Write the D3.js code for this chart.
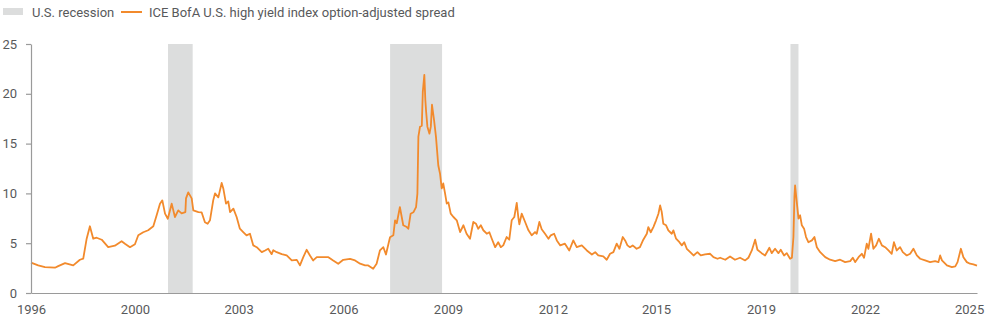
<!DOCTYPE html>
<html>
<head>
<meta charset="utf-8">
<script src="https://cdn.jsdelivr.net/npm/d3@7"></script>
<style>
  html, body { margin: 0; padding: 0; background: #fff; }
  svg { display: block; font-family: Roboto, "Liberation Sans", Arial, sans-serif; }
</style>
</head>
<body>
<svg id="chart" width="1000" height="324"></svg>
<script>
// ICE BofA U.S. high yield index option-adjusted spread (%), with U.S. recessions shaded
const spreadSeries = [
  ["1996-12-31",3.05],["1997-03-21",2.77],["1997-06-04",2.6],["1997-09-23",2.54],["1997-10-29",2.7],
  ["1998-01-13",3.0],["1998-04-14",2.77],["1998-06-27",3.34],["1998-08-03",3.45],["1998-09-10",5.45],
  ["1998-10-16",6.7],["1998-11-22",5.45],["1998-12-30",5.55],["1999-02-24",5.35],["1999-05-07",4.6],
  ["1999-07-20",4.75],["1999-10-03",5.2],["1999-11-09",4.95],["2000-01-04",4.6],["2000-02-28",4.9],
  ["2000-04-05",5.8],["2000-05-30",6.1],["2000-07-24",6.3],["2000-09-19",6.7],["2000-10-26",7.8],
  ["2000-12-02",8.97],["2000-12-28",9.3],["2001-01-27",7.97],["2001-02-27",7.46],["2001-04-11",8.97],
  ["2001-05-17",7.63],["2001-06-23",8.3],["2001-07-30",8.0],["2001-09-10",8.13],["2001-09-17",9.5],
  ["2001-10-12",10.1],["2001-11-19",9.5],["2001-12-07",8.3],["2002-02-02",8.13],["2002-03-09",8.1],
  ["2002-04-15",7.1],["2002-05-15",6.95],["2002-06-10",7.3],["2002-07-16",9.3],["2002-08-05",10.0],
  ["2002-09-11",9.6],["2002-10-18",11.05],["2002-11-05",10.5],["2002-12-05",8.97],["2002-12-30",9.2],
  ["2003-01-19",8.13],["2003-02-25",8.47],["2003-04-02",7.63],["2003-05-08",6.46],["2003-06-14",6.12],
  ["2003-07-21",5.79],["2003-08-28",5.95],["2003-10-04",4.78],["2003-11-11",4.6],["2004-01-06",4.1],
  ["2004-02-12",4.27],["2004-03-18",4.44],["2004-04-25",3.9],["2004-05-13",4.3],["2004-06-20",4.1],
  ["2004-08-15",3.9],["2004-10-09",3.77],["2004-12-04",3.27],["2005-01-29",3.33],["2005-03-05",2.77],
  ["2005-04-11",3.6],["2005-05-18",4.34],["2005-06-24",3.77],["2005-07-30",3.27],["2005-09-08",3.6],
  ["2005-11-20",3.6],["2006-01-15",3.6],["2006-03-09",3.27],["2006-05-04",2.94],["2006-06-29",3.33],
  ["2006-09-12",3.43],["2006-11-07",3.27],["2007-01-02",2.94],["2007-02-26",2.77],["2007-04-02",2.77],
  ["2007-05-27",2.43],["2007-07-04",2.94],["2007-08-10",4.27],["2007-09-17",4.6],["2007-10-16",3.87],
  ["2007-11-30",5.6],["2008-01-06",5.8],["2008-01-25",7.3],["2008-02-13",7.0],["2008-03-19",8.63],
  ["2008-04-08",7.63],["2008-04-25",6.8],["2008-06-03",6.62],["2008-06-20",6.45],["2008-07-16",7.96],
  ["2008-08-15",8.1],["2008-09-14",8.63],["2008-09-29",9.97],["2008-10-10",15.7],["2008-10-28",16.7],
  ["2008-11-17",16.8],["2008-11-28",20.2],["2008-12-15",21.9],["2008-12-26",19.4],["2009-01-04",18.2],
  ["2009-01-18",16.7],["2009-02-10",16.0],["2009-02-25",16.7],["2009-03-10",18.9],["2009-04-02",17.35],
  ["2009-04-23",15.7],["2009-05-19",12.8],["2009-06-07",12.0],["2009-06-26",10.5],["2009-07-13",11.0],
  ["2009-08-02",10.0],["2009-08-21",8.97],["2009-09-08",9.1],["2009-10-04",7.97],["2009-11-03",7.63],
  ["2009-12-10",7.3],["2010-01-16",6.12],["2010-02-22",6.8],["2010-03-29",5.95],["2010-05-06",5.45],
  ["2010-06-12",7.13],["2010-07-11",6.96],["2010-08-06",6.45],["2010-09-03",6.8],["2010-10-01",6.3],
  ["2010-11-08",5.95],["2010-12-07",6.1],["2011-01-03",5.45],["2011-02-09",4.6],["2011-03-15",5.1],
  ["2011-04-12",4.6],["2011-05-10",4.78],["2011-06-17",5.62],["2011-07-16",5.35],["2011-08-12",7.3],
  ["2011-09-10",7.63],["2011-10-07",9.04],["2011-10-24",7.63],["2011-11-05",6.9],["2011-12-01",7.96],
  ["2012-01-08",7.13],["2012-02-14",6.29],["2012-03-21",5.79],["2012-04-27",6.12],["2012-05-16",5.95],
  ["2012-06-14",7.13],["2012-07-10",6.4],["2012-08-16",5.95],["2012-09-23",5.45],["2012-10-19",5.79],
  ["2012-11-25",5.95],["2012-12-25",5.28],["2013-02-01",4.78],["2013-03-25",4.95],["2013-05-12",4.27],
  ["2013-06-26",5.28],["2013-08-03",4.6],["2013-09-28",4.78],["2013-11-23",4.27],["2014-01-18",3.87],
  ["2014-02-24",4.1],["2014-03-30",3.77],["2014-05-25",3.67],["2014-07-02",3.34],["2014-08-08",3.94],
  ["2014-09-14",4.1],["2014-10-21",4.95],["2014-11-20",4.44],["2014-12-27",5.62],["2015-01-22",5.28],
  ["2015-02-17",4.78],["2015-03-17",4.6],["2015-04-16",4.78],["2015-05-30",4.44],["2015-07-06",4.6],
  ["2015-08-12",5.35],["2015-09-20",5.95],["2015-10-07",6.62],["2015-11-03",6.1],["2015-12-02",6.62],
  ["2016-01-01",7.3],["2016-01-27",7.96],["2016-02-15",8.8],["2016-03-04",8.13],["2016-03-21",6.96],
  ["2016-04-21",6.8],["2016-05-16",6.29],["2016-06-23",5.95],["2016-07-11",6.29],["2016-08-10",5.45],
  ["2016-09-16",5.1],["2016-10-13",4.78],["2016-11-08",5.1],["2016-12-07",4.44],["2017-01-14",4.1],
  ["2017-02-20",3.77],["2017-04-04",4.1],["2017-05-11",3.77],["2017-06-28",3.87],["2017-08-23",3.94],
  ["2017-09-29",3.6],["2017-11-13",3.44],["2017-12-12",3.54],["2018-02-07",3.34],["2018-04-01",3.67],
  ["2018-05-26",3.34],["2018-07-21",3.54],["2018-09-16",3.27],["2018-10-22",3.54],["2018-11-29",4.27],
  ["2019-01-05",5.35],["2019-01-30",4.34],["2019-03-18",4.0],["2019-04-25",3.77],["2019-06-12",4.54],
  ["2019-07-08",4.0],["2019-08-14",4.44],["2019-09-20",4.0],["2019-10-16",4.34],["2019-11-22",3.77],
  ["2019-12-22",4.0],["2020-01-28",3.44],["2020-02-17",3.54],["2020-03-05",5.62],["2020-03-16",9.64],
  ["2020-03-23",10.8],["2020-04-09",9.3],["2020-04-30",7.46],["2020-05-18",7.8],["2020-06-06",6.8],
  ["2020-07-01",6.46],["2020-07-23",5.62],["2020-08-18",5.1],["2020-09-26",5.28],["2020-10-24",5.62],
  ["2020-11-20",4.6],["2020-12-27",4.1],["2021-02-21",3.6],["2021-04-16",3.34],["2021-06-11",3.2],
  ["2021-08-05",3.34],["2021-09-30",3.1],["2021-11-25",3.2],["2021-12-24",3.54],["2022-01-20",3.1],
  ["2022-02-26",3.6],["2022-04-03",3.94],["2022-04-28",3.54],["2022-05-28",4.95],["2022-06-15",4.44],
  ["2022-07-15",5.95],["2022-08-10",4.44],["2022-09-09",4.78],["2022-10-09",5.45],["2022-11-12",4.78],
  ["2022-12-18",4.6],["2023-01-24",4.27],["2023-03-01",3.94],["2023-03-26",5.1],["2023-04-26",4.27],
  ["2023-06-02",4.6],["2023-07-02",4.1],["2023-08-15",3.77],["2023-09-22",3.94],["2023-10-28",4.44],
  ["2023-12-05",3.77],["2024-01-11",3.44],["2024-03-06",3.27],["2024-04-30",3.1],["2024-06-25",3.2],
  ["2024-08-01",3.1],["2024-08-20",3.77],["2024-09-09",3.27],["2024-11-03",2.77],["2024-12-28",2.6],
  ["2025-02-04",2.67],["2025-03-01",3.1],["2025-04-07",4.44],["2025-05-05",3.6],["2025-06-12",3.1],
  ["2025-07-18",2.94],["2025-08-24",2.87],["2025-10-03",2.75]
];

// NBER recession periods [start, end]
const recessions = [
  ["2001-03-01", "2001-11-30"],
  ["2007-12-01", "2009-06-30"],
  ["2020-02-01", "2020-04-30"]
];

// x-axis tick positions and their labels
const tickDates  = ["1996-12-31","2000-02-28","2003-04-24","2006-07-01","2009-09-03",
                    "2012-11-11","2015-12-31","2019-03-11","2022-05-09","2025-07-07"];
const tickLabels = ["1996","2000","2003","2006","2009","2012","2015","2019","2022","2025"];

const yTicks = [0, 5, 10, 15, 20, 25];

const legendLabels = ["U.S. recession", "ICE BofA U.S. high yield index option-adjusted spread"];

const parse = d3.timeParse("%Y-%m-%d");
const series = spreadSeries.map(([d, v]) => ({ date: parse(d), value: v }));

const textColor = "#58595b";
const axisColor = "#9a9a9a";
const shadeColor = "#dcdddd";
const lineColor = "#f28a2c";
const fontFamily = "Roboto, 'Liberation Sans', Arial, sans-serif";
const fontSize = "13px";

const svg = d3.select("#chart");

const x = d3.scaleTime()
  .domain([parse("1996-12-31"), parse("2025-10-03")])
  .range([31, 977]);

const y = d3.scaleLinear()
  .domain([0, 25])
  .range([293, 44]);

// Recession bands
svg.append("g")
  .selectAll("rect")
  .data(recessions)
  .join("rect")
  .attr("x", d => x(parse(d[0])))
  .attr("width", d => x(parse(d[1])) - x(parse(d[0])))
  .attr("y", y(25))
  .attr("height", y(0) - y(25))
  .attr("fill", shadeColor);

// Spread line
svg.append("path")
  .datum(series)
  .attr("fill", "none")
  .attr("stroke", lineColor)
  .attr("stroke-width", 1.8)
  .attr("stroke-linejoin", "round")
  .attr("d", d3.line().x(d => x(d.date)).y(d => y(d.value)));

// Y axis
const yAxis = svg.append("g")
  .attr("transform", `translate(${x.range()[0]},0)`)
  .call(d3.axisLeft(y).tickValues(yTicks).tickSize(5).tickSizeOuter(0).tickPadding(9));

// X axis
const xAxis = svg.append("g")
  .attr("transform", `translate(0,${y(0)})`)
  .call(d3.axisBottom(x)
    .tickValues(tickDates.map(parse))
    .tickSize(0)
    .tickSizeOuter(0)
    .tickPadding(12)
    .tickFormat((d, i) => tickLabels[i]));

[yAxis, xAxis].forEach(g => {
  g.select(".domain").attr("stroke", axisColor).attr("stroke-width", 1.2);
  g.selectAll(".tick line").attr("stroke", axisColor).attr("stroke-width", 1.2);
  g.selectAll(".tick text")
    .attr("fill", textColor)
    .style("font-size", fontSize)
    .style("font-family", fontFamily);
});

// Legend
const legend = svg.append("g")
  .style("font-family", fontFamily)
  .style("font-size", fontSize);
legend.append("rect")
  .attr("x", 3).attr("y", 8).attr("width", 20).attr("height", 7)
  .attr("fill", shadeColor);
legend.append("text")
  .attr("x", 32).attr("y", 17)
  .attr("fill", textColor)
  .text(legendLabels[0]);
legend.append("line")
  .attr("x1", 121).attr("x2", 142).attr("y1", 12).attr("y2", 12)
  .attr("stroke", lineColor).attr("stroke-width", 2);
legend.append("text")
  .attr("x", 149).attr("y", 17)
  .attr("fill", textColor)
  .text(legendLabels[1]);
</script>
</body>
</html>
